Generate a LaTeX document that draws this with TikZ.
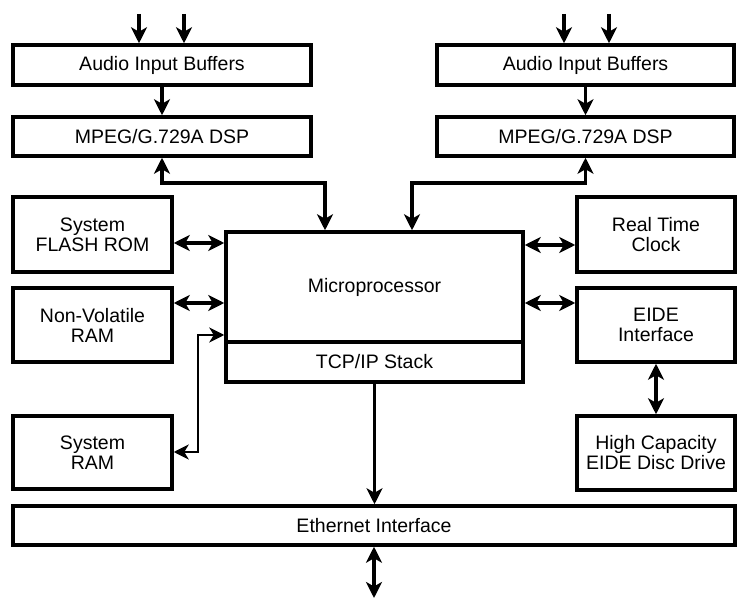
\documentclass[tikz,border=0pt]{standalone}
\usepackage{fontspec}
\setmainfont{Liberation Sans}
\usetikzlibrary{arrows.meta}
\begin{document}
\begin{tikzpicture}[x=1pt,y=-1pt,
  box/.style={draw, line width=3.5pt, rectangle, inner sep=0pt, align=center,
    font=\fontsize{19.5}{20}\selectfont},
  conn/.style={line width=3.5pt},
  thinconn/.style={line width=2.2pt},
  tip/.tip={Stealth[length=16pt,width=16pt,inset=4.5pt]},
  thintip/.tip={Stealth[length=15pt,width=15pt,inset=4.5pt]}
]
\useasboundingbox (0,0) rectangle (745,601);

% boxes
\node[box, minimum width=298pt, minimum height=40pt] (aibL) at (162,65) {Audio Input Buffers};
\node[box, minimum width=298pt, minimum height=39pt] (dspL) at (162,136.5) {MPEG/G.729A DSP};
\node[box, minimum width=297pt, minimum height=40pt] (aibR) at (585.5,65) {Audio Input Buffers};
\node[box, minimum width=297pt, minimum height=39pt] (dspR) at (585.5,136.5) {MPEG/G.729A DSP};

\node[box, minimum width=159pt, minimum height=75pt] (flash) at (92.5,234.5) {System\\FLASH ROM};
\node[box, minimum width=159pt, minimum height=74pt] (nvram) at (92.5,325) {Non-Volatile\\RAM};
\node[box, minimum width=159pt, minimum height=73pt] (sram) at (92.5,452.5) {System\\RAM};

\node[box, minimum width=297pt, minimum height=110pt] (micro) at (374.5,287) {Microprocessor};
\node[box, minimum width=297pt, minimum height=40pt] (tcp) at (374.5,362) {TCP/IP Stack};

\node[box, minimum width=158pt, minimum height=75pt] (rtc) at (656,234.5) {Real Time\\Clock};
\node[box, minimum width=158pt, minimum height=74pt] (eide) at (656,325) {EIDE\\Interface};
\node[box, minimum width=158pt, minimum height=74pt] (hdd) at (656,453) {High Capacity\\EIDE Disc Drive};

\node[box, minimum width=722pt, minimum height=39pt] (eth) at (374,525.5) {Ethernet Interface};

% free ends and junctions
\coordinate (inL1) at (139,14);
\coordinate (inL2) at (184,14);
\coordinate (inR1) at (564,14);
\coordinate (inR2) at (609,14);
\coordinate (jL) at (325,183);
\coordinate (jR) at (412,183);
\coordinate (jS) at (198,335);
\coordinate (out) at (374,598);

% inputs
\draw[conn,-{tip}] (inL1) -- (inL1 |- aibL.north);
\draw[conn,-{tip}] (inL2) -- (inL2 |- aibL.north);
\draw[conn,-{tip}] (inR1) -- (inR1 |- aibR.north);
\draw[conn,-{tip}] (inR2) -- (inR2 |- aibR.north);

% buffers -> DSP
\draw[conn,-{tip}] (aibL.south) -- (dspL.north);
\draw[conn,-{tip}] (aibR.south) -- (dspR.north);

% DSP <-> microprocessor
\draw[conn,{tip}-{tip}] (dspL.south) |- (jL) -- (jL |- micro.north);
\draw[conn,{tip}-{tip}] (dspR.south) |- (jR) -- (jR |- micro.north);

% left memories
\draw[conn,{tip}-{tip}] (flash.east |- 0,243) -- (micro.west |- 0,243);
\draw[conn,{tip}-{tip}] (nvram.east |- 0,303) -- (micro.west |- 0,303);
\draw[thinconn,{thintip}-{thintip}] (sram.east |- 0,452) -| (jS) -- (micro.west |- jS);

% right side
\draw[conn,{tip}-{tip}] (micro.east |- 0,245) -- (rtc.west |- 0,245);
\draw[conn,{tip}-{tip}] (micro.east |- 0,303) -- (eide.west |- 0,303);
\draw[conn,{tip}-{tip}] (eide.south) -- (hdd.north);

% TCP -> Ethernet, Ethernet <-> out
\draw[conn,-{tip}] (tcp.south) -- (tcp.south |- eth.north);
\draw[conn,{tip}-{tip}] (eth.south -| out) -- (out);
\end{tikzpicture}
\end{document}
